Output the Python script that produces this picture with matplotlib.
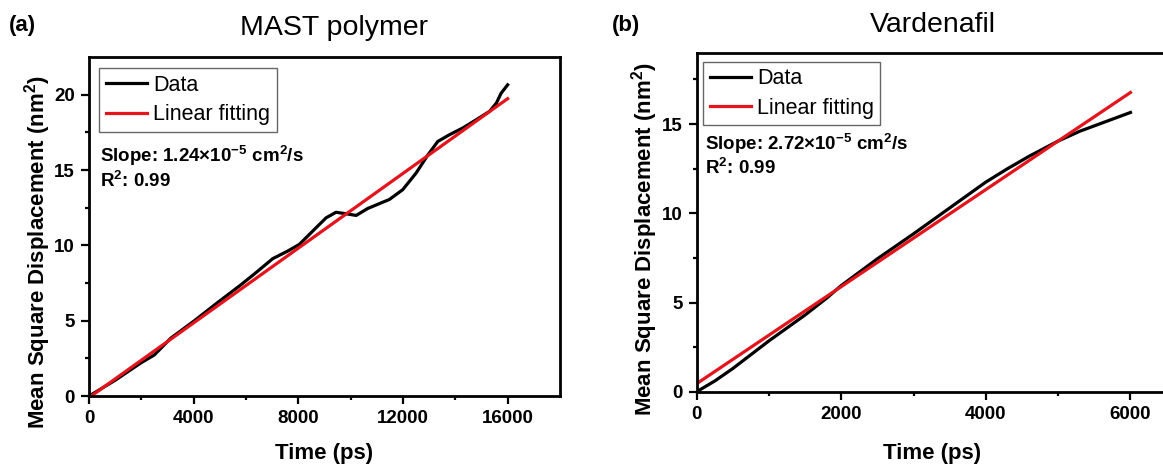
import numpy as np
import matplotlib
matplotlib.use("Agg")
import matplotlib.pyplot as plt

plt.rcParams["font.family"] = ["Liberation Sans", "DejaVu Sans"]
plt.rcParams["mathtext.fontset"] = "custom"
plt.rcParams["mathtext.rm"] = "Liberation Sans"
plt.rcParams["mathtext.bf"] = "Liberation Sans:bold"

# MSD curves (time in ps, MSD in nm^2)
mast_time = [0, 1000, 1980, 2490, 3130, 4020, 4910, 5780, 6380, 7020, 7590, 8040,
             8550, 9060, 9440, 9830, 10210, 10650, 11480, 11990, 12500, 12950,
             13330, 13780, 14290, 14800, 15310, 15570, 15750, 16000]
mast_msd = [0, 1.05, 2.2, 2.72, 3.85, 4.99, 6.2, 7.35, 8.19, 9.12, 9.62, 10.07,
            10.95, 11.83, 12.2, 12.1, 11.99, 12.45, 13.05, 13.7, 14.8, 16.0,
            16.9, 17.35, 17.8, 18.34, 18.9, 19.45, 20.1, 20.66]

var_time = [0, 250, 500, 1000, 1500, 1800, 2000, 2500, 3000, 3500, 4000, 4300,
            4600, 5000, 5300, 5600, 6000]
var_msd = [0, 0.6, 1.3, 2.85, 4.3, 5.25, 5.95, 7.45, 8.85, 10.3, 11.75, 12.5,
           13.2, 14.05, 14.6, 15.05, 15.65]

# linear fits: slope in cm^2/s, intercept in nm^2
mast_slope, mast_icpt, mast_r2 = 1.24e-5, -0.1, 0.99
var_slope, var_icpt, var_r2 = 2.72e-5, 0.45, 0.99

CM2S_TO_NM2PS = 100.0  # 1 cm^2/s = 100 nm^2/ps

fig = plt.figure(figsize=(11.63, 4.66), dpi=100)
ax1 = fig.add_axes([0.0765, 0.150, 0.405, 0.7275])
ax2 = fig.add_axes([0.599, 0.1594, 0.4041, 0.7275])


def draw_panel(ax, t, msd, slope, icpt, r2, t_end, xlim, ylim, xticks, xminor,
               yticks, yminor, leg_anchor, txt_pos, xlab_y):
    ax.plot(t, msd, color="black", lw=2.3, label="Data")
    tf = np.array([0, t_end])
    ax.plot(tf, slope * CM2S_TO_NM2PS * tf + icpt, color="#e3141b", lw=2.3,
            label="Linear fitting")
    ax.set_xlim(*xlim)
    ax.set_ylim(*ylim)
    ax.set_xticks(xticks)
    ax.set_xticks(xminor, minor=True)
    ax.set_yticks(yticks)
    ax.set_yticks(yminor, minor=True)
    for s in ax.spines.values():
        s.set_linewidth(2.0)
    ax.tick_params(which="major", direction="out", length=6, width=1.6,
                   labelsize=13.5, pad=4)
    ax.tick_params(which="minor", direction="out", length=3, width=1.6)
    for lab in ax.get_xticklabels() + ax.get_yticklabels():
        lab.set_fontweight("bold")
    leg = ax.legend(loc="upper left", bbox_to_anchor=leg_anchor, borderaxespad=0,
                    fontsize=15.5, frameon=True, fancybox=False, framealpha=1,
                    edgecolor="#666666", handlelength=1.9, handletextpad=0.3,
                    labelspacing=0.4, borderpad=0.3)
    leg.get_frame().set_linewidth(1.0)
    mant, exp = f"{slope:.2e}".split("e")
    exp = int(exp)
    ax.text(txt_pos[0], txt_pos[1],
            rf"Slope: {mant}×10$^{{\mathbf{{{exp}}}}}$ cm$^{{\mathbf{{2}}}}$/s",
            transform=ax.transAxes, fontsize=13.5, fontweight="bold", va="baseline")
    ax.text(txt_pos[0], txt_pos[2], rf"R$^{{\mathbf{{2}}}}$: {r2:.2f}",
            transform=ax.transAxes, fontsize=13.5, fontweight="bold", va="baseline")
    ax.set_xlabel("Time (ps)", fontsize=16, fontweight="bold")
    ax.xaxis.set_label_coords(0.5, xlab_y)


draw_panel(ax1, mast_time, mast_msd, mast_slope, mast_icpt, mast_r2, 16000,
           (0, 18000), (0, 22.5), range(0, 16001, 4000), range(2000, 16001, 4000),
           range(0, 21, 5), np.arange(2.5, 22.5, 5), (0.022, 0.967),
           (0.023, 0.691, 0.617), -0.138)
draw_panel(ax2, var_time, var_msd, var_slope, var_icpt, var_r2, 6000,
           (0, 6500), (0, 19), range(0, 6001, 2000), range(1000, 6001, 2000),
           range(0, 16, 5), np.arange(2.5, 19, 5), (0.014, 0.9735),
           (0.018, 0.714, 0.643), -0.150)

ylab = "Mean Square Displacement (nm$^\\mathbf{2}$)"
fig.text(0.0327, 0.459, ylab, rotation=90, ha="center", va="center",
         fontsize=16, fontweight="bold")
fig.text(0.5546, 0.487, ylab, rotation=90, ha="center", va="center",
         fontsize=16, fontweight="bold")

fig.text(0.287, 0.925, "MAST polymer", ha="center", va="baseline", fontsize=20.5)
fig.text(0.802, 0.931, "Vardenafil", ha="center", va="baseline", fontsize=20.5)
fig.text(0.008, 0.933, "(a)", ha="left", va="baseline", fontsize=16,
         fontweight="bold")
fig.text(0.526, 0.933, "(b)", ha="left", va="baseline", fontsize=16,
         fontweight="bold")

fig.savefig("out.png", dpi=100)
